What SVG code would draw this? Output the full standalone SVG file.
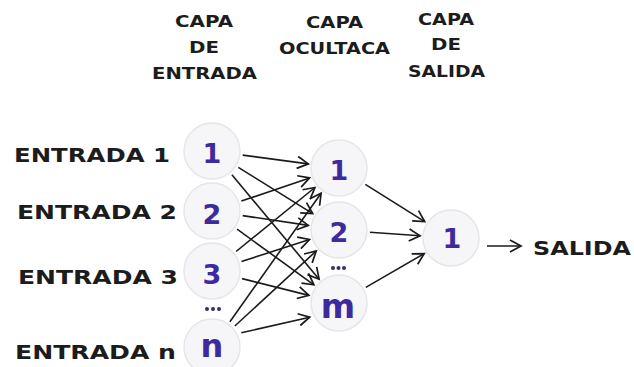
<svg xmlns="http://www.w3.org/2000/svg" width="634" height="367" viewBox="0 0 634 367">
  <style>
    .lbl { font-family: "DejaVu Sans", "Liberation Sans", sans-serif; font-weight: bold; fill: #1c1c1c; }
    .title { font-size: 15px; }
    .side { font-size: 20px; }
    .node circle { fill: #f6f5f7; stroke: #e6e5e9; stroke-width: 1.5; }
    .num { font-family: "DejaVu Sans", "Liberation Sans", sans-serif; font-weight: bold; fill: #3c2a9e; text-anchor: middle; }
    .dots circle { fill: #3a2a6e; }
    .edges line { stroke: #1a1a1a; stroke-width: 1.6; marker-end: url(#arrow); }
  </style>
  <defs>
    <marker id="arrow" markerUnits="userSpaceOnUse" markerWidth="14" markerHeight="14" viewBox="0 0 14 14" refX="12" refY="7" orient="auto">
      <path d="M1,1 L12,7 L1,13" fill="none" stroke="#1a1a1a" stroke-width="1.7"/>
    </marker>
  </defs>
  <rect width="634" height="367" fill="#ffffff"/>

  <!-- layer titles -->
  <g id="titles" class="lbl title">
    <text x="175" y="27" textLength="58" lengthAdjust="spacingAndGlyphs">CAPA</text>
    <text x="189" y="53" textLength="30" lengthAdjust="spacingAndGlyphs">DE</text>
    <text x="152" y="79" textLength="105" lengthAdjust="spacingAndGlyphs">ENTRADA</text>
    <text x="306" y="28" textLength="57" lengthAdjust="spacingAndGlyphs">CAPA</text>
    <text x="279" y="54" textLength="111" lengthAdjust="spacingAndGlyphs">OCULTACA</text>
    <text x="418" y="25" textLength="56" lengthAdjust="spacingAndGlyphs">CAPA</text>
    <text x="431" y="50" textLength="30" lengthAdjust="spacingAndGlyphs">DE</text>
    <text x="408" y="77" textLength="77" lengthAdjust="spacingAndGlyphs">SALIDA</text>
  </g>

  <!-- input labels -->
  <g id="labels" class="lbl side">
    <text x="14" y="162" textLength="156" lengthAdjust="spacingAndGlyphs">ENTRADA 1</text>
    <text x="17" y="219" textLength="160" lengthAdjust="spacingAndGlyphs">ENTRADA 2</text>
    <text x="18" y="284" textLength="160" lengthAdjust="spacingAndGlyphs">ENTRADA 3</text>
    <text x="15" y="359" textLength="161" lengthAdjust="spacingAndGlyphs">ENTRADA n</text>
    <text x="533" y="255" textLength="98" lengthAdjust="spacingAndGlyphs">SALIDA</text>
  </g>

  <!-- connectors -->
  <g id="connectors" class="edges">
    <line x1="242.7" y1="155.1" x2="308.3" y2="163.9"/>
    <line x1="238.3" y1="167.4" x2="312.7" y2="213.6"/>
    <line x1="231.9" y1="174.8" x2="319.1" y2="279.2"/>
    <line x1="241.4" y1="201.1" x2="309.6" y2="177.9"/>
    <line x1="242.7" y1="215.6" x2="308.3" y2="225.4"/>
    <line x1="237.1" y1="229.2" x2="313.9" y2="284.8"/>
    <line x1="236.1" y1="251.5" x2="314.9" y2="187.5"/>
    <line x1="241.5" y1="261.5" x2="309.5" y2="239.5"/>
    <line x1="242.1" y1="278.6" x2="308.9" y2="295.4"/>
    <line x1="229.9" y1="321.7" x2="321.1" y2="193.3"/>
    <line x1="234.8" y1="326.0" x2="316.2" y2="251.0"/>
    <line x1="241.3" y1="332.8" x2="309.7" y2="317.2"/>
    <line x1="365.3" y1="184.4" x2="424.7" y2="221.6"/>
    <line x1="369.9" y1="232.2" x2="420.1" y2="235.8"/>
    <line x1="365.8" y1="287.4" x2="424.2" y2="253.6"/>
    <line x1="487" y1="246" x2="521" y2="246"/>
  </g>

  <!-- input layer -->
  <g id="in1" class="node"><circle cx="212" cy="151" r="28"/><text class="num" x="212" y="163" font-size="27">1</text></g>
  <g id="in2" class="node"><circle cx="212" cy="211" r="28"/><text class="num" x="212" y="224" font-size="27">2</text></g>
  <g id="in3" class="node"><circle cx="212" cy="271" r="28"/><text class="num" x="212" y="284" font-size="27">3</text></g>
  <g id="in-n" class="node"><circle cx="212" cy="347" r="28"/><text class="num" x="212" y="357" font-size="32">n</text></g>
  <g class="dots"><circle cx="207" cy="309" r="2"/><circle cx="213" cy="309" r="2"/><circle cx="219" cy="309" r="2"/></g>

  <!-- hidden layer -->
  <g id="h1" class="node"><circle cx="339" cy="168" r="28"/><text class="num" x="339" y="180" font-size="27">1</text></g>
  <g id="h2" class="node"><circle cx="339" cy="230" r="28"/><text class="num" x="339" y="242" font-size="27">2</text></g>
  <g id="h-m" class="node"><circle cx="339" cy="303" r="28"/><text class="num" x="338" y="318" font-size="33">m</text></g>
  <g class="dots"><circle cx="333" cy="268" r="2"/><circle cx="338.5" cy="268" r="2"/><circle cx="344" cy="268" r="2"/></g>

  <!-- output layer -->
  <g id="out1" class="node"><circle cx="451" cy="238" r="28"/><text class="num" x="452" y="248" font-size="27">1</text></g>
</svg>
